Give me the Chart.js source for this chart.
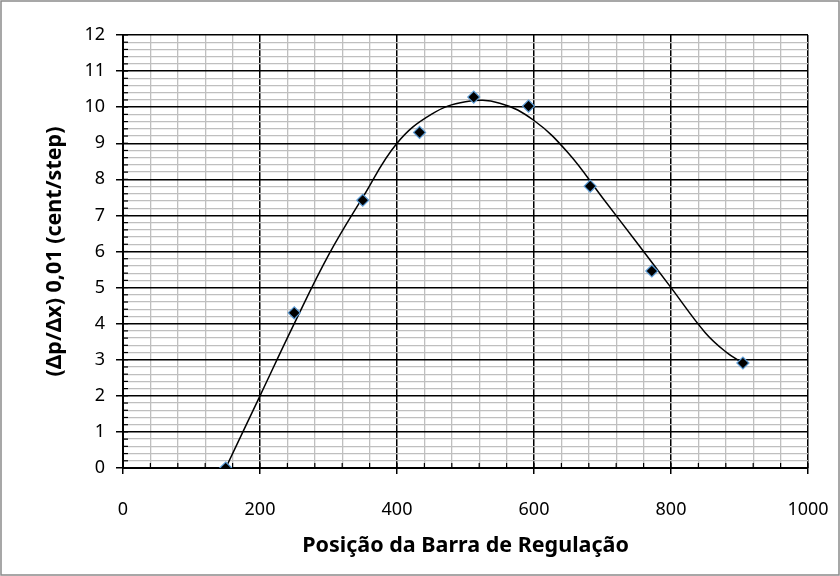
<!DOCTYPE html>
<html>
<head>
<meta charset="utf-8">
<script src="https://cdn.jsdelivr.net/npm/chart.js@4"></script>
<style>
  html, body { margin: 0; padding: 0; background: #fff; }
  #wrap { width: 840px; height: 576px; }
</style>
</head>
<body>
<div id="wrap"><canvas id="regChart" width="840" height="576"></canvas></div>
<script>
// measured points
const barPos = [150, 250, 350, 433, 512, 592, 682, 772, 905];
const dpdx = [0, 4.3, 7.42, 9.3, 10.28, 10.03, 7.81, 5.46, 2.91];
// trend curve
const curveX = [150, 200, 250, 300, 350, 400, 450, 500, 550, 600, 650, 700, 750, 800, 850, 880, 905];
const curveY = [0, 2.0, 4.0, 5.9, 7.5, 9.0, 9.8, 10.15, 10.11, 9.63, 8.73, 7.49, 6.25, 5.0, 3.75, 3.22, 2.91];
const xTickLabels = [0, 200, 400, 600, 800, 1000];
const yTickLabels = [0, 1, 2, 3, 4, 5, 6, 7, 8, 9, 10, 11, 12];

const FONT = "'Noto Sans', 'Open Sans', sans-serif";

const isMajorX = v => xTickLabels.some(t => Math.abs(t - v) < 1e-6);
const isMajorY = v => yTickLabels.some(t => Math.abs(t - v) < 1e-6);

const extras = {
  id: "extras",
  afterDraw(chart) {
    const c = chart.ctx;
    const xs = chart.scales.x, ys = chart.scales.y;
    const a = chart.chartArea;
    c.save();
    c.strokeStyle = "#000";
    c.lineWidth = 1.2;
    // little inside tick marks at the minor steps
    xs.ticks.forEach(t => {
      const px = xs.getPixelForValue(t.value);
      c.beginPath(); c.moveTo(px, a.bottom); c.lineTo(px, a.bottom - 5); c.stroke();
    });
    ys.ticks.forEach(t => {
      const py = ys.getPixelForValue(t.value);
      c.beginPath(); c.moveTo(a.left, py); c.lineTo(a.left + 5, py); c.stroke();
    });
    // outer frame
    c.strokeStyle = "#8a8a8a";
    c.lineWidth = 1.5;
    c.strokeRect(1, 1, chart.width - 2, chart.height - 2);
    c.restore();
  }
};

new Chart(document.getElementById("regChart"), {
  type: "scatter",
  data: {
    datasets: [
      {
        label: "pontos",
        data: barPos.map((x, i) => ({ x: x, y: dpdx[i] })),
        pointStyle: "rectRot",
        pointRadius: 6,
        pointBackgroundColor: "#000",
        pointBorderColor: "#5b9bd5",
        pointBorderWidth: 1.2,
        order: 1
      },
      {
        label: "curva",
        data: curveX.map((x, i) => ({ x: x, y: curveY[i] })),
        showLine: true,
        borderColor: "#000",
        borderWidth: 1.5,
        pointRadius: 0,
        tension: 0.4,
        order: 2
      }
    ]
  },
  plugins: [extras],
  options: {
    responsive: false,
    animation: false,
    layout: { padding: { left: 0, top: 35, right: 32, bottom: 0 } },
    plugins: {
      legend: { display: false },
      tooltip: { enabled: false }
    },
    scales: {
      x: {
        min: 0,
        max: 1000,
        afterFit(s) { s.height = 108; s.paddingLeft = 0; s.paddingRight = 0; },
        border: { color: "#000", width: 2 },
        grid: {
          color: c => isMajorX(c.tick.value) ? "#000" : "#bfbfbf",
          lineWidth: c => isMajorX(c.tick.value) ? 1.5 : 1.3,
          tickColor: c => isMajorX(c.tick.value) ? "#000" : "rgba(0,0,0,0)",
          tickLength: 6,
          tickWidth: 1.5
        },
        ticks: {
          stepSize: 40,
          autoSkip: false,
          maxRotation: 0,
          padding: 25,
          color: "#000",
          font: { family: FONT, size: 18 },
          callback: v => isMajorX(v) ? String(Math.round(v)) : ""
        },
        title: {
          display: true,
          text: "Posição da Barra de Regulação",
          color: "#000",
          font: { family: FONT, size: 21.5, weight: "bold" },
          padding: { top: 0, bottom: 17 }
        }
      },
      y: {
        min: 0,
        max: 12,
        afterFit(s) { s.width = 123; s.paddingTop = 0; s.paddingBottom = 0; },
        border: { color: "#000", width: 2 },
        grid: {
          color: c => isMajorY(c.tick.value) ? "#000" : "#bfbfbf",
          lineWidth: c => isMajorY(c.tick.value) ? 1.5 : 1.3,
          tickColor: c => isMajorY(c.tick.value) ? "#000" : "rgba(0,0,0,0)",
          tickLength: 7,
          tickWidth: 1.5
        },
        ticks: {
          stepSize: 0.2,
          maxTicksLimit: 100,
          autoSkip: false,
          padding: 11,
          color: "#000",
          font: { family: FONT, size: 18 },
          callback: v => isMajorY(v) ? String(Math.round(v)) : ""
        },
        title: {
          display: true,
          text: "(Δp/Δx) 0,01 (cent/step)",
          color: "#000",
          font: { family: FONT, size: 21.5, weight: "bold" },
          padding: { top: 42, bottom: 0 }
        }
      }
    }
  }
});
</script>
</body>
</html>
